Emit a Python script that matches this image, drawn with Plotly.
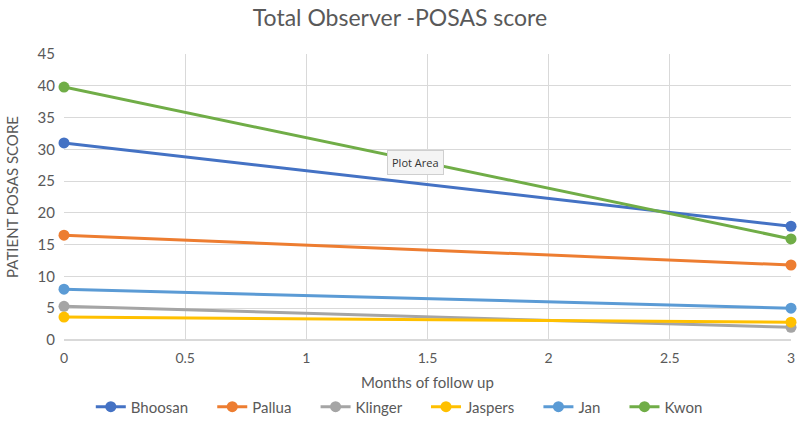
import plotly.graph_objects as go

months = [0, 3]
series_names = ["Bhoosan", "Pallua", "Klinger", "Jaspers", "Jan", "Kwon"]
bhoosan = [31.0, 17.9]
pallua = [16.5, 11.8]
klinger = [5.3, 2.0]
jaspers = [3.6, 2.8]
jan = [8.0, 5.0]
kwon = [39.8, 15.9]
colors = ["#4472C4", "#ED7D31", "#A5A5A5", "#FFC000", "#5B9BD5", "#70AD47"]
values = [bhoosan, pallua, klinger, jaspers, jan, kwon]

pad = "\u00a0" * 5
fig = go.Figure()
for name, vals, col in zip(series_names, values, colors):
    fig.add_trace(go.Scatter(
        x=months, y=vals, name=name + pad, mode="lines+markers",
        line=dict(color=col, width=3),
        marker=dict(color=col, size=11),
        cliponaxis=False,
    ))

font_fam = "Lato, Open Sans, sans-serif"
fig.update_layout(
    width=800, height=435,
    paper_bgcolor="white", plot_bgcolor="white",
    margin=dict(l=64, r=9, t=54, b=95, autoexpand=False),
    title=dict(text="Total Observer -POSAS score", x=0.5, xanchor="center",
               xref="container", y=0.958, yanchor="middle", yref="container",
               font=dict(family=font_fam, size=23, color="#595959")),
    font=dict(family=font_fam, color="#595959"),
    xaxis=dict(range=[0, 3], dtick=0.5, showgrid=True, gridcolor="#D9D9D9",
               gridwidth=1, zeroline=False, showline=False,
               tickfont=dict(size=14, color="#595959"),
               ticklabelstandoff=8, ticklabeloverflow="allow",
               title=dict(text="Months of follow up", font=dict(size=15, color="#595959"), standoff=12),
               ticks="", tickformat="~g", automargin=False),
    yaxis=dict(range=[0, 45], dtick=5, showgrid=True, gridcolor="#D9D9D9",
               gridwidth=1, zeroline=True, zerolinecolor="#D9D9D9", showline=False,
               tickfont=dict(size=15, color="#595959"),
               ticklabelstandoff=8,
               title=dict(text="PATIENT POSAS SCORE", font=dict(size=15, color="#595959"), standoff=15),
               ticks="", automargin=False),
    legend=dict(orientation="h", x=0.511, xanchor="center", xref="container",
                y=-0.234, yanchor="middle",
                font=dict(size=15, color="#595959"),
                traceorder="normal"),
    showlegend=True,
)

fig.add_annotation(
    x=1.45, y=28.0, xref="x", yref="y", text="Plot Area", showarrow=False,
    font=dict(size=11, color="#333333", family="Open Sans, sans-serif"),
    bgcolor="#F4F4F4", bordercolor="#CFCFCF", borderwidth=1, borderpad=4,
)

fig.write_html("out.html", config={"displayModeBar": False},
               post_script="document.body.style.margin='0';")
